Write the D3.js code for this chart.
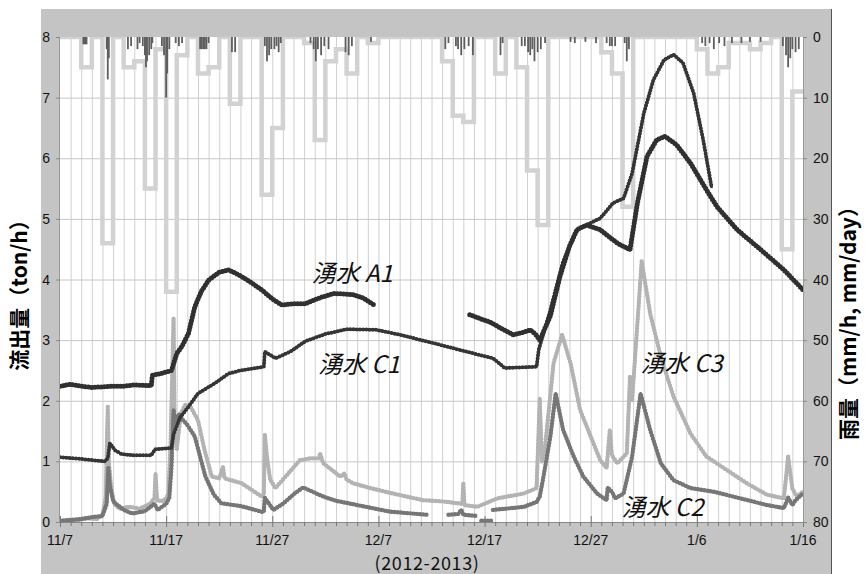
<!DOCTYPE html>
<html>
<head>
<meta charset="utf-8">
<script src="https://cdn.jsdelivr.net/npm/d3@7"></script>
<style>
  body { margin: 0; background: #fff; }
  text { font-family: "Noto Sans CJK JP", "DejaVu Sans", sans-serif; }
  text.tick { font-family: "Liberation Sans", Arial, sans-serif; }
</style>
</head>
<body>
<svg id="chart" width="865" height="574" viewBox="0 0 865 574"></svg>
<script>
// days counted from 2012-11-07
const xTickLabels = ["11/7", "11/17", "11/27", "12/7", "12/17", "12/27", "1/6", "1/16"]
const leftTicks = [0, 1, 2, 3, 4, 5, 6, 7, 8]
const rightTicks = [0, 10, 20, 30, 40, 50, 60, 70, 80]

// daily rain (mm/day), one value per day
const dailyRain = [0, 0, 5, 0, 34, 0, 5, 4, 25, 2,
  42, 3, 0, 6, 5, 0, 11, 0, 0, 26,
  15, 0, 0, 1, 17, 4, 2, 6, 0, 1,
  0, 0, 0, 0, 0, 0, 4, 13, 14, 0,
  0, 6, 0, 5, 22, 31, 0, 0, 0, 0,
  0, 2.5, 6, 28, 0, 0, 0, 0, 0, 0,
  2, 6, 5, 1, 1, 2, 1, 0, 35, 9]

// hourly rain (day, mm/h)
const hourlyRain = [[2.2, 1.2], [2.3, 1.2], [2.4, 1.2], [2.5, 1.2],
  [4.4, 2], [4.5, 7], [4.6, 3.5], [6.4, 2], [6.7, 1.5], [7.3, 2], [7.5, 1],
  [7.8, 1.5], [8.0, 3], [8.1, 5], [8.2, 4], [8.4, 3], [8.6, 2], [8.7, 1],
  [9.6, 1.5], [9.8, 3], [10.0, 10], [10.1, 6], [10.3, 2],
  [10.9, 1], [11.2, 1.5], [11.5, 1],
  [13.2, 2], [13.35, 2], [13.5, 2], [13.65, 2], [13.8, 2], [14.0, 1],
  [16.2, 2.5], [16.5, 2.5],
  [19.3, 1.5], [19.5, 4], [19.7, 3], [19.9, 2], [20.2, 2], [20.4, 1.5], [20.6, 2.5], [20.8, 1],
  [23.6, 1], [23.9, 2], [24.1, 4], [24.3, 2], [24.6, 3], [24.9, 1.5], [25.3, 2],
  [26.9, 2.5], [27.2, 3], [27.5, 1.5], [29.3, 0.8],
  [36.3, 2], [36.6, 1], [37.3, 1.5], [37.5, 2], [37.8, 3], [38.1, 2], [38.5, 1.5], [38.9, 3],
  [41.5, 3], [41.7, 1],
  [43.5, 1.5], [43.8, 1.5], [44.1, 2.5], [44.3, 3], [44.5, 2], [44.7, 4], [45.0, 2.5], [45.3, 2], [45.7, 1],
  [48.1, 0.8], [48.5, 1], [49.5, 0.8], [50.5, 1], [51.5, 1], [51.8, 1.5], [52.0, 1.5], [52.3, 1.5],
  [53.2, 1], [53.4, 4], [53.6, 2],
  [60.5, 1], [60.8, 1.5], [61.2, 1], [61.6, 2], [62.1, 1], [62.6, 1.5], [63.3, 1], [64.2, 1], [65.0, 0.8], [66.0, 0.8],
  [68.1, 1.5], [68.4, 3], [68.6, 5], [68.8, 3.5], [69.0, 2], [69.3, 2.5], [69.6, 2]]

// spring discharge (day, ton/h); null = no data
const springA1 = [[0, 2.24], [1, 2.27], [2, 2.24], [3, 2.22], [4.2, 2.23], [5, 2.24], [6, 2.24], [7, 2.26],
  [8.6, 2.25], [8.7, 2.42], [9.5, 2.45], [10.5, 2.5], [11.0, 2.78], [11.5, 2.9], [12.1, 3.11], [12.7, 3.55],
  [13.3, 3.8], [14.0, 3.99], [15.0, 4.12], [15.9, 4.16], [17.1, 4.05], [18, 3.95], [19.0, 3.83], [20.0, 3.68],
  [20.9, 3.58], [22, 3.6], [23.1, 3.6], [24.5, 3.7], [25.8, 3.77], [27.6, 3.75], [28.5, 3.7], [29.6, 3.58],
  [29.7, null],
  [38.6, 3.42], [39.5, 3.36], [40.5, 3.30], [41.5, 3.2], [42.7, 3.09], [43.5, 3.12], [44.3, 3.17], [44.8, 3.1],
  [45.2, 3.0], [46.2, 3.4], [47.1, 4.05], [48.0, 4.55], [48.7, 4.82], [49.6, 4.90], [50.9, 4.82], [52.5, 4.60],
  [53.7, 4.49], [54.4, 5.26], [55.3, 6.03], [56.2, 6.30], [57.0, 6.36], [58.1, 6.22], [59.4, 5.92], [60.9, 5.48],
  [61.9, 5.20], [63.8, 4.82], [65.7, 4.54], [68.2, 4.16], [70, 3.83]]

const springC1 = [[0, 1.07], [2, 1.04], [4.2, 1.0], [4.5, 1.05], [4.7, 1.30], [5.2, 1.18], [5.8, 1.12], [7, 1.1],
  [8.6, 1.1], [8.95, 1.20], [10.5, 1.22], [10.7, 1.45], [11.3, 1.72], [12.1, 1.90], [13.0, 2.12], [14.6, 2.29],
  [15.9, 2.45], [17, 2.5], [18.4, 2.54], [19.2, 2.56], [19.3, 2.81], [20.3, 2.70], [21.7, 2.81], [23.1, 2.98],
  [25, 3.1], [27.0, 3.18], [29.8, 3.17], [32.0, 3.09], [35.2, 2.95], [38.3, 2.81], [40.8, 2.70], [41.5, 2.6],
  [41.9, 2.54], [44.9, 2.56], [45.1, 2.84], [46.2, 3.5], [47.4, 4.3], [48.7, 4.82], [49.6, 4.90], [50.9, 5.01],
  [52.1, 5.26], [53.1, 5.34], [53.9, 5.75], [55.0, 6.74], [55.9, 7.29], [56.9, 7.62], [57.8, 7.71], [58.7, 7.57],
  [59.7, 7.07], [60.6, 6.30], [61.4, 5.51]]

const springC2 = [[0, 0.02], [2, 0.05], [3, 0.08], [4.0, 0.1], [4.4, 0.3], [4.55, 0.9], [4.7, 0.6], [5.0, 0.35],
  [5.2, 0.31], [6, 0.2], [6.8, 0.14], [8, 0.18], [8.9, 0.3], [9.2, 0.2], [10, 0.3], [10.3, 0.4], [10.5, 0.9],
  [10.7, 1.85], [10.85, 1.63], [11.2, 1.78], [11.5, 1.7], [12.0, 1.6], [12.7, 1.41], [13.7, 0.75], [14.5, 0.45],
  [15.2, 0.31], [17.1, 0.26], [19.0, 0.17], [19.2, 0.17], [19.3, 0.40], [20.1, 0.2], [21, 0.3], [22.1, 0.47],
  [22.9, 0.57], [24.8, 0.42], [26, 0.35], [28.0, 0.28], [31.1, 0.17], [34.6, 0.12], [34.7, null],
  [36.6, 0.12], [37.5, 0.13], [37.8, 0.2], [38, 0.12], [39.3, 0.1], [39.5, null],
  [39.7, 0.02], [40.7, 0.02], [40.75, null],
  [40.8, 0.2], [42, 0.22], [43.7, 0.25], [44.9, 0.33], [45.2, 0.42], [45.5, 0.7], [46.2, 1.41], [46.7, 2.12],
  [47.4, 1.52], [48.4, 1.08], [49.3, 0.75], [50.6, 0.47], [51.5, 0.36], [51.6, 0.57], [52.0, 0.5], [52.3, 0.39],
  [53.1, 0.47], [53.9, 1.08], [54.7, 2.12], [55.6, 1.52], [56.6, 0.97], [57.8, 0.69], [59.4, 0.56], [61.6, 0.50],
  [64.1, 0.39], [66.6, 0.28], [68.2, 0.23], [68.6, 0.4], [69.0, 0.28], [69.3, 0.36], [70, 0.47]]

const springC3 = [[0.5, 0.0], [1.5, 0.02], [2.5, 0.06], [3.5, 0.05], [4.0, 0.12], [4.3, 0.4], [4.5, 1.9], [4.6, 1.0],
  [4.8, 0.6], [5.1, 0.3], [5.6, 0.22], [6.5, 0.25], [7.5, 0.22], [8.5, 0.3], [8.9, 0.4], [9.0, 0.8], [9.15, 0.35],
  [9.8, 0.35], [10.2, 0.45], [10.4, 1.2], [10.7, 3.36], [10.8, 1.6], [11.0, 1.2], [11.4, 1.8], [11.8, 1.93],
  [12.3, 1.9], [13.0, 1.68], [13.6, 1.2], [14.3, 0.75], [15.0, 0.72], [15.35, 0.91], [15.5, 0.72], [17.1, 0.64],
  [19.0, 0.42], [19.2, 0.45], [19.3, 1.44], [19.5, 1.07], [19.8, 0.7], [20.3, 0.56], [21.5, 0.8], [22.6, 1.02],
  [23.6, 1.05], [24.4, 1.05], [24.5, 1.13], [24.8, 0.97], [26.4, 0.75], [26.8, 0.8], [27.0, 0.7], [27.6, 0.64],
  [29.2, 0.56], [31.1, 0.48], [34.2, 0.36], [36.1, 0.34], [37.9, 0.3], [38.0, 0.64], [38.1, 0.28], [39.3, 0.25],
  [41.2, 0.39], [43.7, 0.47], [44.9, 0.56], [45.2, 2.04], [45.4, 1.0], [45.7, 1.24], [46.5, 2.62], [47.3, 3.09],
  [48.1, 2.62], [49.0, 1.85], [50.0, 1.41], [50.9, 1.02], [51.5, 0.89], [51.8, 1.52], [52.0, 1.1], [52.5, 0.97],
  [53.4, 1.13], [53.7, 2.40], [53.9, 2.0], [54.8, 4.30], [55.6, 3.44], [56.6, 2.73], [57.8, 2.07], [59.4, 1.46],
  [60.9, 1.08], [62.8, 0.86], [64.7, 0.64], [66.6, 0.45], [68.2, 0.39], [68.6, 1.08], [69.0, 0.55], [69.4, 0.42],
  [70, 0.5]]

const labels = [
  {text: "湧水 A1", day: 23.7, v: 3.96},
  {text: "湧水 C1", day: 24.3, v: 2.45},
  {text: "湧水 C3", day: 54.7, v: 2.48},
  {text: "湧水 C2", day: 52.9, v: 0.1}
]

const svg = d3.select("#chart")
const width = 865, height = 574
const margin = {left: 60, right: 62, top: 37, bottom: 52}

// grey frame + white plot area
svg.append("rect").attr("x", 41).attr("y", 9).attr("width", 790).attr("height", 565).attr("fill", "#c4c4c4")
svg.append("line").attr("x1", 831.5).attr("x2", 831.5).attr("y1", 9).attr("y2", 574).attr("stroke", "#555")
svg.append("rect")
  .attr("x", margin.left).attr("y", margin.top)
  .attr("width", width - margin.left - margin.right)
  .attr("height", height - margin.top - margin.bottom)
  .attr("fill", "#fff")

const x = d3.scaleLinear().domain([0, 70]).range([margin.left, width - margin.right])
const y = d3.scaleLinear().domain([0, 8]).range([height - margin.bottom, margin.top])
const yR = d3.scaleLinear().domain([0, 80]).range([margin.top, height - margin.bottom])

svg.append("clipPath").attr("id", "plotclip").append("rect")
  .attr("x", margin.left).attr("y", margin.top)
  .attr("width", width - margin.left - margin.right)
  .attr("height", height - margin.top - margin.bottom)

// grid
const grid = svg.append("g")
grid.selectAll(".vg").data(d3.range(1, 70)).enter().append("line")
  .attr("x1", d => x(d) + 0.5).attr("x2", d => x(d) + 0.5)
  .attr("y1", margin.top).attr("y2", height - margin.bottom)
  .attr("stroke", "#d0d0d0")
grid.selectAll(".hg").data(leftTicks.slice(1, -1)).enter().append("line")
  .attr("x1", margin.left).attr("x2", width - margin.right)
  .attr("y1", d => y(d) + 0.5).attr("y2", d => y(d) + 0.5)
  .attr("stroke", "#c6c6c6")

const plot = svg.append("g").attr("clip-path", "url(#plotclip)")

// daily rain as step line
const stepData = dailyRain.map((v, i) => [i, v]).concat([[70, dailyRain[dailyRain.length - 1]]])
plot.append("path")
  .datum(stepData)
  .attr("fill", "none")
  .attr("stroke", "#d2d2d2")
  .attr("stroke-width", 4.5)
  .attr("d", d3.line().x(d => x(d[0])).y(d => yR(d[1])).curve(d3.curveStepAfter))

// hourly rain bars
plot.selectAll(".hr").data(hourlyRain).enter().append("rect")
  .attr("x", d => x(d[0]) - 0.9)
  .attr("width", 1.8)
  .attr("y", yR(0))
  .attr("height", d => yR(d[1]) - yR(0))
  .attr("fill", "#5e5e5e")

// springs
const flowLine = d3.line()
  .defined(d => d[1] !== null)
  .x(d => x(d[0])).y(d => y(d[1]))

const series = [
  {data: springC3, color: "#b3b3b3", w: 3},
  {data: springC2, color: "#767676", w: 3},
  {data: springC1, color: "#353535", w: 2.6},
  {data: springA1, color: "#303030", w: 3.6}
]
series.forEach(s => {
  plot.append("path")
    .datum(s.data)
    .attr("fill", "none")
    .attr("stroke", s.color)
    .attr("stroke-width", s.w)
    .attr("stroke-linejoin", "round")
    .attr("d", flowLine)
  // dotted overlay to mimic the logger points
  plot.append("path")
    .datum(s.data)
    .attr("fill", "none")
    .attr("stroke", s.color)
    .attr("stroke-width", s.w + 1.4)
    .attr("stroke-linecap", "round")
    .attr("stroke-dasharray", "0 3.2")
    .attr("d", flowLine)
})

// axes
const xAxis = svg.append("g").attr("transform", `translate(0,${height - margin.bottom})`)
xAxis.append("line").attr("x1", margin.left).attr("x2", width - margin.right)
  .attr("y1", 0.5).attr("y2", 0.5).attr("stroke", "#888")
xAxis.selectAll(".mt").data(d3.range(0, 71)).enter().append("line")
  .attr("x1", d => x(d) + 0.5).attr("x2", d => x(d) + 0.5)
  .attr("y1", d => d % 10 === 0 ? -6 : 0).attr("y2", d => d % 10 === 0 ? 5 : 4)
  .attr("stroke", "#777")
xAxis.selectAll(".xl").data(xTickLabels).enter().append("text")
  .attr("class", "tick")
  .attr("x", (d, i) => x(i * 10))
  .attr("y", 23)
  .attr("text-anchor", "middle")
  .attr("font-size", 14)
  .attr("fill", "#111")
  .text(d => d)

svg.append("line").attr("x1", margin.left - 0.5).attr("x2", margin.left - 0.5)
  .attr("y1", margin.top).attr("y2", height - margin.bottom).attr("stroke", "#999")
svg.append("line").attr("x1", width - margin.right + 0.5).attr("x2", width - margin.right + 0.5)
  .attr("y1", margin.top).attr("y2", height - margin.bottom).attr("stroke", "#999")

svg.selectAll(".lt").data(leftTicks).enter().append("line")
  .attr("x1", margin.left - 4).attr("x2", margin.left)
  .attr("y1", d => y(d) + 0.5).attr("y2", d => y(d) + 0.5).attr("stroke", "#888")
svg.selectAll(".ll").data(leftTicks).enter().append("text")
  .attr("class", "tick")
  .attr("x", 50).attr("y", d => y(d) + 5)
  .attr("text-anchor", "end")
  .attr("font-size", 14).attr("fill", "#111")
  .text(d => d)

svg.selectAll(".rt").data(rightTicks).enter().append("line")
  .attr("x1", width - margin.right).attr("x2", width - margin.right + 4)
  .attr("y1", d => yR(d) + 0.5).attr("y2", d => yR(d) + 0.5).attr("stroke", "#888")
svg.selectAll(".rl").data(rightTicks).enter().append("text")
  .attr("class", "tick")
  .attr("x", 813).attr("y", d => yR(d) + 5)
  .attr("font-size", 14).attr("fill", "#111")
  .text(d => d)

// titles
svg.append("text")
  .attr("transform", "translate(27,290) rotate(-90)")
  .attr("text-anchor", "middle")
  .attr("font-size", 21).attr("font-weight", "bold").attr("fill", "#000")
  .text("流出量（ton/h）")
svg.append("text")
  .attr("transform", "translate(856,318) rotate(-90)")
  .attr("text-anchor", "middle")
  .attr("font-size", 21).attr("font-weight", "bold").attr("fill", "#000")
  .text("雨量（mm/h, mm/day）")
svg.append("text")
  .attr("x", 427).attr("y", 570)
  .attr("text-anchor", "middle")
  .attr("font-size", 18).attr("letter-spacing", 0.6).attr("fill", "#111")
  .text("(2012-2013)")

// series labels
svg.selectAll(".lab").data(labels).enter().append("text")
  .attr("x", d => x(d.day)).attr("y", d => y(d.v))
  .attr("font-size", 24).attr("font-style", "italic").attr("fill", "#111")
  .text(d => d.text)
</script>
</body>
</html>
